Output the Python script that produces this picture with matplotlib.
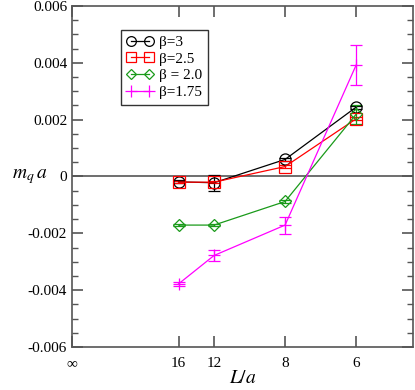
import matplotlib
matplotlib.use("Agg")
import matplotlib.pyplot as plt
import numpy as np
from matplotlib.ticker import MultipleLocator
from matplotlib.lines import Line2D

plt.rcParams['font.family'] = ['Liberation Serif', 'DejaVu Serif']
plt.rcParams['mathtext.fontset'] = 'stix'

# lattice sizes, plotted against 1/L
sizes = [16, 12, 8, 6]
tick_sizes = [16, 12, 8, 6]

b3 = [-0.00019, -0.00022, 0.00060, 0.00244]
b3_err = [0.00005, 0.00028, 0.00005, 0.00005]
b25 = [-0.00020, -0.00020, 0.00035, 0.00203]
b25_err = [0.00004, 0.00004, 0.00004, 0.00005]
b20 = [-0.00171, -0.00171, -0.00088, 0.00219]
b20_err = [0.00004, 0.00004, 0.00005, 0.00033]
b175 = [-0.00378, -0.00278, -0.00171, 0.00392]
b175_err = [0.00007, 0.00020, 0.00030, 0.00070]

series = [
    (b3, b3_err, 'black', 'o', 8, 'β=3'),
    (b25, b25_err, 'red', 's', 8, 'β=2.5'),
    (b20, b20_err, '#1a9a1a', 'D', 6, 'β = 2.0'),
    (b175, b175_err, 'magenta', '+', 9, 'β=1.75'),
]

fig = plt.figure(figsize=(4.15, 3.9), dpi=100)
ax = fig.add_axes([0.1735, 0.1103, 0.8215, 0.8743])

x = 1.0 / np.array(sizes)
ax.axhline(0, color='#555555', lw=1.2, zorder=1)

handles = []
for vals, errs, col, mk, ms, lab in series:
    ax.errorbar(x, vals, yerr=errs, color=col, marker=mk, ms=ms,
                mfc='none', mec=col, mew=0.9, lw=0.9, elinewidth=0.9,
                capsize=4, capthick=0.9, zorder=3)
    handles.append(Line2D([], [], color=col, marker=mk, ms=ms - 1, mfc='none',
                          mec=col, mew=0.9, lw=0.9, label=lab))

ax.set_xlim(0, 0.2)
ax.set_ylim(-0.006, 0.006)
ax.set_xticks([0] + list(1.0 / np.array(tick_sizes)))
ax.set_xticklabels(['∞'] + [str(s) for s in tick_sizes])
ax.set_yticks([-0.006, -0.004, -0.002, 0, 0.002, 0.004, 0.006])
ax.set_yticklabels(['-0.006', '-0.004', '-0.002', '0', '0.002', '0.004', '0.006'])
ax.yaxis.set_minor_locator(MultipleLocator(0.0005))
ax.tick_params(direction='in', which='both', top=True, right=True, labelsize=11)
ax.tick_params(which='major', length=8, width=1.2, color='#555555')
ax.tick_params(which='minor', length=4, width=1.0, color='#555555')
ax.tick_params(axis='x', pad=7)
for s in ax.spines.values():
    s.set_color('#555555')
    s.set_linewidth(1.2)

ax.set_xlabel(r'$L/a$', fontsize=14, labelpad=0)
ax.text(-0.125, 0.5, r'$m_q\,a$', fontsize=14, ha='center', va='center',
        transform=ax.transAxes)

leg = ax.legend(handles=handles, loc='upper left', bbox_to_anchor=(0.144, 0.93),
                frameon=True, fancybox=False, edgecolor='black', fontsize=11,
                numpoints=2, handlelength=1.8, borderpad=0.35, labelspacing=0.2,
                handletextpad=0.35, borderaxespad=0)
leg.get_frame().set_linewidth(1.0)

fig.savefig('out.png', dpi=100)
